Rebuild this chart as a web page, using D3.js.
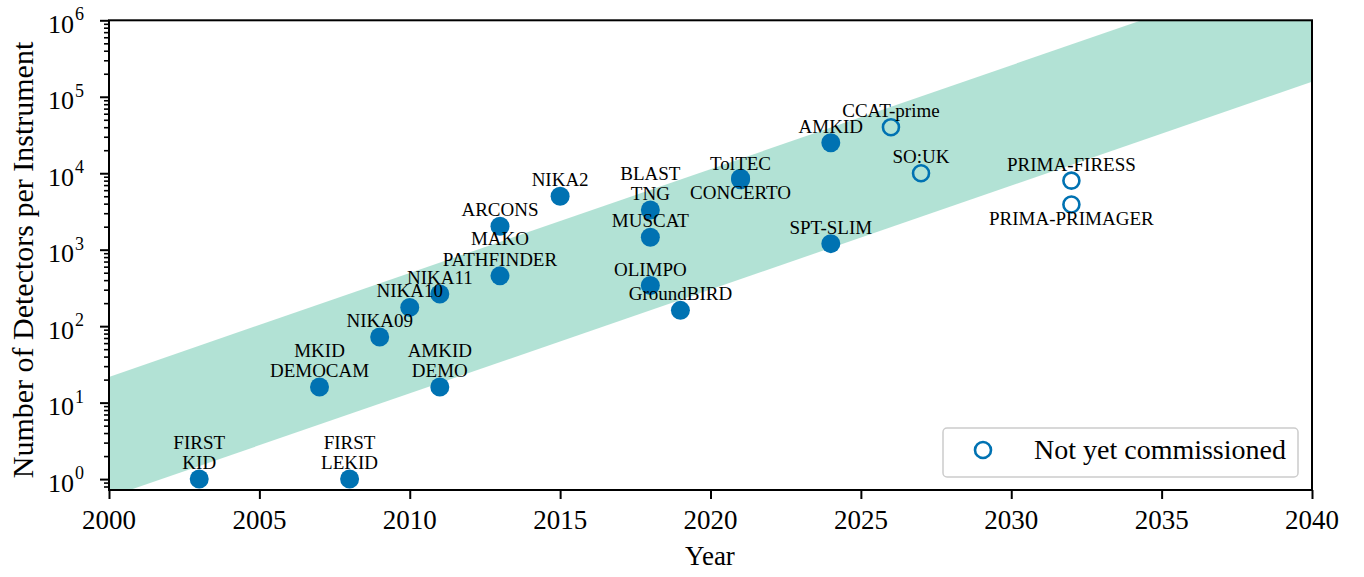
<!DOCTYPE html>
<html><head><meta charset="utf-8">
<script src="https://cdn.jsdelivr.net/npm/d3@7"></script>
<style>
html,body{margin:0;padding:0;background:#fff;}
svg{display:block;font-family:"Liberation Serif","Times New Roman",serif;}
</style></head>
<body><svg id="chart" width="1364" height="577"></svg>
<script>
// ---- data ----
const names = ["FIRST\nKID","FIRST\nLEKID","MKID\nDEMOCAM","AMKID\nDEMO","NIKA09","NIKA10","NIKA11",
  "MAKO\nPATHFINDER","ARCONS","NIKA2","BLAST\nTNG","MUSCAT","OLIMPO","GroundBIRD","TolTEC","CONCERTO",
  "SPT-SLIM","AMKID","CCAT-prime","SO:UK","PRIMA-FIRESS","PRIMA-PRIMAGER"];
const years = [2003,2008,2007,2011,2009,2010,2011,2013,2013,2015,2018,2018,2018,2019,2021,2021,2024,2024,2026,2027,2032,2032];
const detectors = [1,1,16,16,72,176,264,455,2024,5000,3300,1458,340,161,8200,8600,1200,25000,40000,10000,8000,3900];
const commissioned = [true,true,true,true,true,true,true,true,true,true,true,true,true,true,true,true,true,true,false,false,false,false];
const labelBelow = ["CONCERTO","PRIMA-PRIMAGER"];
const bandYears = [2000, 2040];
const bandLow = [0.58, 157000];
const bandHigh = [21.7, 5.9e6];
const xTicks = [2000,2005,2010,2015,2020,2025,2030,2035,2040];
const yTickExps = [0,1,2,3,4,5,6];
const legendLabel = "Not yet commissioned";
const xTitle = "Year";
const yTitle = "Number of Detectors per Instrument";

// ---- layout ----
const L = 109, R = 1312, T = 20.3, B = 490;
const svg = d3.select("#chart");
const x = d3.scaleLinear().domain([2000, 2040]).range([L, R]);
const y = d3.scaleLog().domain([0.72, 1e6]).range([B, T]);
const blue = "#0072B2";

svg.append("clipPath").attr("id","clip").append("rect")
  .attr("x",L).attr("y",T).attr("width",R-L).attr("height",B-T);

// band
const bandPts = [[bandYears[0],bandLow[0]],[bandYears[1],bandLow[1]],[bandYears[1],bandHigh[1]],[bandYears[0],bandHigh[0]]];
svg.append("path")
  .attr("clip-path","url(#clip)")
  .attr("d", d3.line().x(d=>x(d[0])).y(d=>y(d[1]))(bandPts) + "Z")
  .attr("fill","#009E73").attr("fill-opacity",0.3);

// points
const data = names.map((n,i)=>({name:n, year:years[i], val:detectors[i], done:commissioned[i]}));
const g = svg.append("g").attr("clip-path","url(#clip)");
g.selectAll("circle.done").data(data.filter(d=>d.done)).join("circle")
  .attr("cx",d=>x(d.year)).attr("cy",d=>y(d.val)).attr("r",9.5).attr("fill",blue);
g.selectAll("circle.todo").data(data.filter(d=>!d.done)).join("circle")
  .attr("cx",d=>x(d.year)).attr("cy",d=>y(d.val)).attr("r",8).attr("fill","none")
  .attr("stroke",blue).attr("stroke-width",2.6);

// labels
const lineH = 20.5;
data.forEach(d=>{
  const lines = d.name.split("\n");
  const cx = x(d.year), cy = y(d.val);
  const below = labelBelow.includes(d.name);
  const t = svg.append("text").attr("text-anchor","middle").attr("font-size",19).attr("fill","#000");
  lines.forEach((ln,k)=>{
    let base;
    if (below) base = cy + 21 + k*lineH;
    else base = cy - 10 - (lines.length-1-k)*lineH;
    t.append("tspan").attr("x",cx).attr("y",base).text(ln);
  });
});

// axes frame
svg.append("rect").attr("x",L).attr("y",T).attr("width",R-L).attr("height",B-T)
  .attr("fill","none").attr("stroke","#000").attr("stroke-width",2);

// x axis
const xAxis = d3.axisBottom(x).tickValues(xTicks).tickSize(9).tickPadding(0).tickFormat(d3.format("d"));
const xa = svg.append("g").attr("transform",`translate(0,${B})`).call(xAxis);
xa.select(".domain").remove();
xa.selectAll(".tick line").attr("stroke","#000").attr("stroke-width",2);
xa.selectAll(".tick text").remove();
xTicks.forEach(v=>{
  svg.append("text").attr("x",x(v)).attr("y",529).attr("text-anchor","middle")
    .attr("font-size",27).text(v);
});

// y axis: major and minor ticks
const majors = yTickExps.map(e=>Math.pow(10,e));
const minors = [];
for (let e=-1;e<6;e++) for (let m=2;m<10;m++){const v=m*Math.pow(10,e); if(v>=0.72 && v<=1e6) minors.push(v);}
const yAxisMaj = d3.axisLeft(y).tickValues(majors).tickSize(9).tickFormat("");
const yAxisMin = d3.axisLeft(y).tickValues(minors).tickSize(5).tickFormat("");
const ya1 = svg.append("g").attr("transform",`translate(${L},0)`).call(yAxisMaj);
const ya2 = svg.append("g").attr("transform",`translate(${L},0)`).call(yAxisMin);
[ya1,ya2].forEach(a=>{a.select(".domain").remove(); a.selectAll(".tick line").attr("stroke","#000").attr("stroke-width",1.6);});
ya1.selectAll(".tick line").attr("stroke-width",2);
yTickExps.forEach(e=>{
  const yy = y(Math.pow(10,e));
  const t = svg.append("text").attr("x",74).attr("y",yy+12.5).attr("text-anchor","end").attr("font-size",26);
  t.text("10");
  svg.append("text").attr("x",75).attr("y",yy+0).attr("text-anchor","start").attr("font-size",18).text(e);
});

// axis titles
svg.append("text").attr("x",710).attr("y",565).attr("text-anchor","middle").attr("font-size",27).text(xTitle);
svg.append("text").attr("transform","translate(33,260) rotate(-90)").attr("text-anchor","middle")
  .attr("font-size",30).text(yTitle);

// legend
svg.append("rect").attr("x",943).attr("y",428).attr("width",355).attr("height",49).attr("rx",4)
  .attr("fill","#fff").attr("fill-opacity",0.8).attr("stroke","#cccccc").attr("stroke-width",1.5);
svg.append("circle").attr("cx",983).attr("cy",450).attr("r",8).attr("fill","none").attr("stroke",blue).attr("stroke-width",2.6);
svg.append("text").attr("x",1034).attr("y",459).attr("font-size",28).text(legendLabel);
</script></body></html>
